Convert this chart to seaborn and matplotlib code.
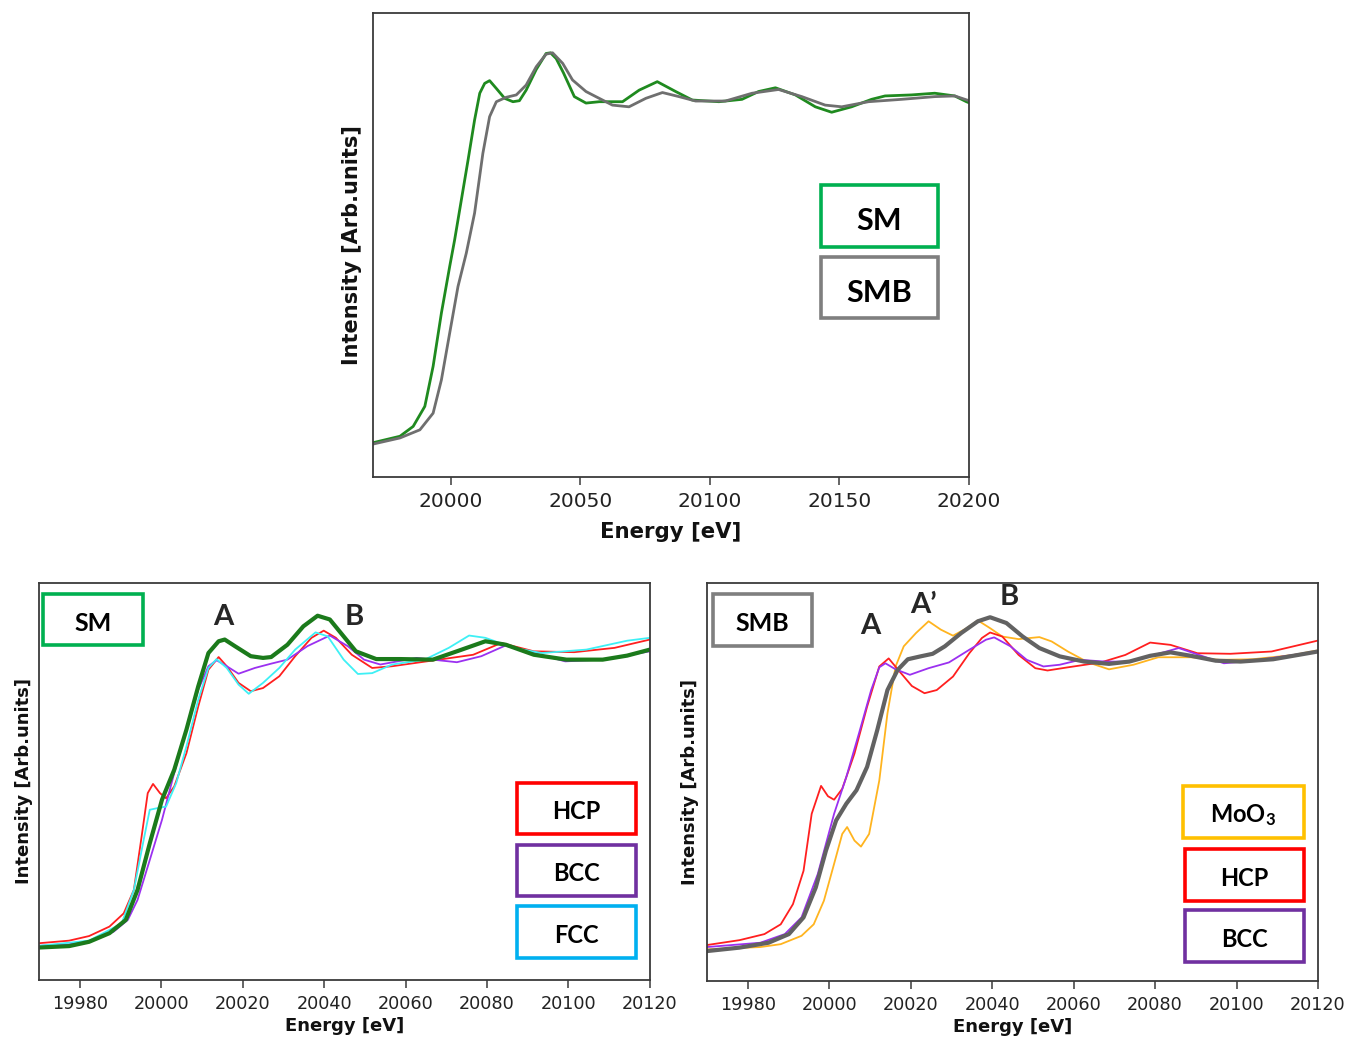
import matplotlib
matplotlib.use("Agg")
import matplotlib.pyplot as plt
import matplotlib.transforms as mtransforms
from matplotlib.patches import Rectangle
import pandas as pd
import seaborn as sns

# ---------------- data: normalised Mo K-edge XANES ----------------
# top panel: samples
top_sm_e = [19970, 19980.4, 19985.5, 19990, 19993.2, 19996.4, 19999.6, 20001.5, 20004.1, 20006.7,
            20009.2, 20011.2, 20013.1, 20015, 20017.6, 20020.8, 20024, 20026.5, 20029.1, 20033,
            20036.8, 20038.5, 20040.7, 20043.5, 20047.7, 20052.2, 20057.3, 20061, 20066.3, 20072.7,
            20079.7, 20086.8, 20093.2, 20103.5, 20112.4, 20118.8, 20125.3, 20133, 20140.7, 20147,
            20154.7, 20162.4, 20167.6, 20177.8, 20186.8, 20194.5, 20199, 20200]
top_sm_v = [-0.009, 0.01, 0.039, 0.098, 0.216, 0.373, 0.51, 0.588, 0.706, 0.824, 0.941, 1.02, 1.049,
            1.057, 1.034, 1.005, 0.995, 0.998, 1.029, 1.09, 1.137, 1.139, 1.122, 1.08, 1.01, 0.991,
            0.995, 0.995, 0.995, 1.029, 1.054, 1.025, 1.0, 0.995, 1.002, 1.025, 1.036, 1.015, 0.98,
            0.964, 0.98, 1.002, 1.012, 1.015, 1.02, 1.012, 0.995, 0.992]
top_smb_e = [19970, 19980.4, 19988.1, 19993.2, 19996.4, 19999.6, 20002.8, 20006, 20009.2, 20012.4,
             20015, 20017.6, 20021.4, 20025.3, 20029.1, 20033, 20036.8, 20039.3, 20043.2, 20047,
             20052.2, 20056, 20062.4, 20068.8, 20075.3, 20081.7, 20088.1, 20094.5, 20106, 20116.3,
             20126.5, 20135.5, 20144.5, 20150.9, 20161.2, 20174, 20186.8, 20194.5, 20200]
top_smb_v = [-0.013, 0.005, 0.029, 0.078, 0.176, 0.314, 0.451, 0.549, 0.667, 0.843, 0.951, 0.995,
             1.008, 1.015, 1.044, 1.098, 1.135, 1.139, 1.108, 1.059, 1.025, 1.01, 0.985, 0.98, 1.005,
             1.022, 1.01, 0.997, 0.997, 1.02, 1.031, 1.01, 0.985, 0.98, 0.995, 1.002, 1.01, 1.012,
             0.998]

# bottom-left panel: SM vs. Mo phase references
sm_e = [19970, 19977.4, 19982.3, 19987.3, 19991.3, 19994.2, 19997.2, 20000.2, 20003.2, 20006.2,
        20009.1, 20011.6, 20014.1, 20015.6, 20018.1, 20022, 20025, 20027, 20031, 20034.9, 20038.4,
        20041.4, 20044.8, 20047.8, 20052.8, 20058.7, 20066.7, 20072.6, 20079.6, 20084.6, 20091.5,
        20099.5, 20108.4, 20114.4, 20120]
sm_v = [-0.003, 0.002, 0.017, 0.047, 0.093, 0.198, 0.36, 0.512, 0.616, 0.756, 0.907, 1.023, 1.064,
        1.07, 1.047, 1.012, 1.006, 1.009, 1.052, 1.116, 1.153, 1.14, 1.081, 1.029, 1.002, 1.002, 1.0,
        1.029, 1.064, 1.052, 1.017, 1.0, 1.0, 1.014, 1.035]
hcp1_e = [19970, 19977.4, 19982.3, 19987.3, 19990.8, 19993.3, 19995.2, 19996.7, 19998, 19999.7,
          20001.2, 20003.2, 20006.2, 20009.1, 20011.6, 20014.1, 20016.1, 20019, 20022, 20025, 20029,
          20032.9, 20036.9, 20039.9, 20042.9, 20046.8, 20051.8, 20056.7, 20066.7, 20076.6, 20083.5,
          20091.5, 20101.4, 20111.3, 20120]
hcp1_v = [0.012, 0.021, 0.037, 0.07, 0.116, 0.198, 0.384, 0.535, 0.567, 0.535, 0.517, 0.558, 0.674,
          0.837, 0.965, 1.009, 0.977, 0.919, 0.89, 0.901, 0.942, 1.012, 1.076, 1.101, 1.076, 1.017,
          0.971, 0.977, 0.997, 1.017, 1.058, 1.029, 1.026, 1.041, 1.07]
bcc1_e = [19970, 19977.4, 19983.3, 19988.3, 19991.8, 19994.2, 19997.2, 20000.2, 20003.2, 20006.2,
          20009.1, 20011.6, 20013.6, 20016.1, 20019, 20023, 20027, 20031, 20035.9, 20041.4, 20045.8,
          20049.8, 20053.8, 20062.7, 20072.6, 20078.6, 20084.5, 20091.5, 20099.2, 20108.4, 20120]
bcc1_v = [0.003, 0.008, 0.023, 0.052, 0.093, 0.163, 0.302, 0.442, 0.605, 0.756, 0.895, 0.977, 0.998,
          0.977, 0.951, 0.971, 0.986, 1.0, 1.047, 1.084, 1.047, 1.0, 0.983, 1.006, 0.991, 1.012, 1.049,
          1.023, 0.994, 1.0, 1.029]
fcc1_e = [19970, 19982.3, 19990.3, 19993.3, 19995.7, 19997.2, 19999.2, 20001.2, 20003.7, 20006.2,
          20009.1, 20011.6, 20013.6, 20016.1, 20019, 20021.5, 20025, 20029, 20032.9, 20037.9, 20040.9,
          20044.8, 20048.3, 20051.8, 20056.7, 20064.7, 20070.6, 20075.6, 20079.6, 20086.5, 20093.5,
          20104.4, 20114.4, 20120]
fcc1_v = [0.003, 0.021, 0.081, 0.198, 0.372, 0.477, 0.483, 0.488, 0.57, 0.698, 0.86, 0.971, 1.002,
          0.971, 0.913, 0.881, 0.919, 0.971, 1.035, 1.095, 1.081, 1.0, 0.95, 0.953, 0.983, 1.0, 1.041,
          1.084, 1.076, 1.041, 1.023, 1.035, 1.066, 1.076]

# bottom-right panel: SMB vs. MoO3 and Mo phase references
smb_e = [19970, 19978, 19985.1, 19990.1, 19993.7, 19996.7, 19999.2, 20001.7, 20004.2, 20006.7,
         20009.3, 20011.8, 20014.3, 20016.8, 20019.3, 20022.4, 20025.4, 20028.4, 20032.4, 20036.5,
         20039.5, 20043.5, 20047.5, 20051.6, 20056.6, 20062.6, 20068.7, 20073.7, 20078.8, 20083.8,
         20088.8, 20094.9, 20101, 20109, 20120]
smb_v = [-0.012, 0.0, 0.017, 0.047, 0.105, 0.209, 0.337, 0.442, 0.5, 0.547, 0.628, 0.756, 0.895,
         0.965, 1.002, 1.012, 1.021, 1.047, 1.093, 1.134, 1.148, 1.128, 1.081, 1.041, 1.012, 0.994,
         0.986, 0.994, 1.014, 1.026, 1.014, 0.997, 0.994, 1.002, 1.029]
moo3_e = [19970, 19983.1, 19988.1, 19993.2, 19996.2, 19998.7, 20001.2, 20003.2, 20004.4, 20006.2,
          20007.8, 20009.8, 20012.3, 20014.3, 20016.3, 20018.3, 20021.3, 20024.4, 20027.4, 20030.4,
          20033.4, 20036.5, 20039.5, 20042.5, 20046.5, 20051.6, 20054.6, 20058.6, 20063.6, 20068.7,
          20074.7, 20080.8, 20088.8, 20095.9, 20104, 20114, 20120]
moo3_v = [-0.006, 0.002, 0.012, 0.041, 0.081, 0.163, 0.291, 0.395, 0.419, 0.372, 0.351, 0.395, 0.581,
          0.814, 0.977, 1.047, 1.093, 1.134, 1.105, 1.084, 1.107, 1.137, 1.11, 1.081, 1.072, 1.079,
          1.064, 1.029, 0.991, 0.967, 0.983, 1.009, 1.009, 1.0, 1.002, 1.017, 1.033]
hcp2_e = [19970, 19978, 19984.1, 19988.1, 19991.1, 19993.7, 19995.7, 19998, 19999.7, 20001.2, 20003.2,
          20006.2, 20009.3, 20012.3, 20014.6, 20017.3, 20020.3, 20023.4, 20026.4, 20030.4, 20034.4,
          20037.5, 20039.5, 20042.5, 20046.5, 20050.6, 20053.6, 20058.6, 20066.7, 20072.7, 20078.8,
          20083.8, 20090.4, 20098.5, 20108.6, 20120]
hcp2_v = [0.009, 0.026, 0.047, 0.081, 0.151, 0.267, 0.465, 0.562, 0.526, 0.514, 0.552, 0.674, 0.837,
          0.977, 1.005, 0.959, 0.909, 0.884, 0.895, 0.942, 1.023, 1.076, 1.095, 1.081, 1.017, 0.971,
          0.963, 0.974, 0.991, 1.017, 1.06, 1.052, 1.023, 1.021, 1.029, 1.067]
bcc2_e = [19970, 19983.1, 19989.1, 19993.2, 19997.2, 20001.2, 20004.2, 20007.3, 20010.3, 20012.3,
          20013.8, 20016.3, 20019.8, 20024.4, 20029.4, 20034.4, 20038.5, 20040.5, 20044.5, 20048.5,
          20052.6, 20056.6, 20061.6, 20067.7, 20073.7, 20079.8, 20085.8, 20090.8, 20096.9, 20104, 20120]
bcc2_v = [0.002, 0.017, 0.047, 0.105, 0.256, 0.465, 0.593, 0.744, 0.895, 0.974, 0.988, 0.967, 0.948,
          0.971, 0.991, 1.035, 1.07, 1.078, 1.047, 1.0, 0.977, 0.983, 1.0, 0.994, 0.994, 1.017, 1.041,
          1.017, 0.988, 0.997, 1.029]

top_ticks = [20000, 20050, 20100, 20150, 20200]
bottom_ticks = [19980, 20000, 20020, 20040, 20060, 20080, 20100, 20120]

# ---------------- style ----------------
sns.set_theme(style="white")
plt.rcParams["font.family"] = ["DejaVu Sans"]
plt.rcParams["mathtext.fontset"] = "custom"
plt.rcParams["mathtext.rm"] = "Lato:bold"
plt.rcParams["mathtext.bf"] = "Lato:bold"
plt.rcParams["mathtext.it"] = "Lato:bold"

SPINE = "#3a3a3a"
C_SM_LINE = "#1f8a1f"
C_SM_DARK = "#1b7a1b"
C_SMB_LINE = "#6f6f6f"
C_SMB_DARK = "#626262"
C_HCP = "#ff1f1f"
C_BCC = "#9b30f0"
C_FCC = "#3ef0f5"
C_MOO3 = "#ffb41f"
BOX_SM = "#00b050"
BOX_SMB = "#7f7f7f"
BOX_HCP = "#ff0000"
BOX_BCC = "#7030a0"
BOX_FCC = "#00b0f0"
BOX_MOO3 = "#ffc000"

fig = plt.figure(figsize=(13.49, 10.37), dpi=100)
ax_top = fig.add_axes([0.2765, 0.54, 0.4418, 0.4474])
ax_bl = fig.add_axes([0.0289, 0.0550, 0.4529, 0.3828])
ax_br = fig.add_axes([0.5241, 0.0540, 0.4529, 0.3838])


def curve(ax, e, v, color, lw):
    df = pd.DataFrame({"Energy": e, "Intensity": v})
    sns.lineplot(data=df, x="Energy", y="Intensity", ax=ax, color=color, linewidth=lw,
                 legend=False, estimator=None, solid_joinstyle="round", solid_capstyle="round")


def tag(ax, x, y, w, h, text, edge, size, drop=3.5):
    ax.add_patch(Rectangle((x, y), w, h, transform=ax.transAxes, facecolor="white",
                           edgecolor=edge, linewidth=2.6, zorder=5, clip_on=False))
    shift = mtransforms.ScaledTranslation(0, -drop / 100, fig.dpi_scale_trans)
    ax.text(x + w / 2, y + h / 2, text, transform=ax.transAxes + shift, ha="center",
            va="center", fontsize=size, fontweight="bold", family="Lato", color="black",
            zorder=6)


def frame(ax, xlim, ticks, tick_size, xlab_size, ylab_size, ylab_x):
    ax.set_xlim(*xlim)
    ax.set_ylim(-0.116, 1.267)
    ax.set_xticks(ticks)
    ax.set_xticklabels([str(t) for t in ticks])
    ax.set_yticks([])
    ax.tick_params(axis="x", direction="out", length=6, width=1.1, color=SPINE,
                   labelsize=tick_size, labelcolor="#222222", pad=5, bottom=True)
    for sp in ax.spines.values():
        sp.set_color(SPINE)
        sp.set_linewidth(1.3)
    ax.set_xlabel("Energy [eV]", fontsize=xlab_size, fontweight="bold", color="#111111")
    ax.set_ylabel("Intensity [Arb.units]", fontsize=ylab_size, fontweight="bold",
                  color="#111111")
    ax.yaxis.set_label_coords(ylab_x, 0.5)


# ---------------- top panel ----------------
curve(ax_top, top_sm_e, top_sm_v, C_SM_LINE, 2.0)
curve(ax_top, top_smb_e, top_smb_v, C_SMB_LINE, 2.0)
frame(ax_top, (19970, 20200), top_ticks, 14.5, 15.3, 15, -0.018)
ax_top.set_ylim(-0.11, 1.256)
ax_top.xaxis.labelpad = 8
tag(ax_top, 0.7517, 0.4957, 0.1963, 0.1336, "SM", BOX_SM, 22, drop=5)
tag(ax_top, 0.7517, 0.3427, 0.1963, 0.1315, "SMB", BOX_SMB, 22, drop=5)

# ---------------- bottom-left panel ----------------
curve(ax_bl, hcp1_e, hcp1_v, C_HCP, 1.3)
curve(ax_bl, bcc1_e, bcc1_v, C_BCC, 1.3)
curve(ax_bl, fcc1_e, fcc1_v, C_FCC, 1.3)
curve(ax_bl, sm_e, sm_v, C_SM_DARK, 3.0)
frame(ax_bl, (19970, 20120), bottom_ticks, 12.7, 13, 13, -0.010)
ax_bl.xaxis.labelpad = 3
tag(ax_bl, 0.0065, 0.8438, 0.1637, 0.1285, "SM", BOX_SM, 18)
tag(ax_bl, 0.7823, 0.3678, 0.1948, 0.1285, "HCP", BOX_HCP, 17)
tag(ax_bl, 0.7823, 0.2116, 0.1948, 0.1285, "BCC", BOX_BCC, 17)
tag(ax_bl, 0.7823, 0.0554, 0.1948, 0.1310, "FCC", BOX_FCC, 17)
for lab, xe in [("A", 20015.2), ("B", 20047.3)]:
    ax_bl.text(xe, 1.150, lab, ha="center", va="center", fontsize=21,
               fontweight="bold", family="Lato")

# ---------------- bottom-right panel ----------------
curve(ax_br, moo3_e, moo3_v, C_MOO3, 1.3)
curve(ax_br, hcp2_e, hcp2_v, C_HCP, 1.3)
curve(ax_br, bcc2_e, bcc2_v, C_BCC, 1.3)
curve(ax_br, smb_e, smb_v, C_SMB_DARK, 3.0)
frame(ax_br, (19970, 20120), bottom_ticks, 12.7, 13, 13, -0.013)
ax_br.xaxis.labelpad = 3
tag(ax_br, 0.0098, 0.8417, 0.1620, 0.1307, "SMB", BOX_SMB, 18)
tag(ax_br, 0.7790, 0.3593, 0.1980, 0.1307, r"$\mathbf{MoO_3}$", BOX_MOO3, 17)
tag(ax_br, 0.7823, 0.2010, 0.1948, 0.1307, "HCP", BOX_HCP, 17)
tag(ax_br, 0.7823, 0.0477, 0.1948, 0.1307, "BCC", BOX_BCC, 17)
for lab, xe, ye in [("A", 20010.0, 1.118), ("A\u2019", 20023.1, 1.192), ("B", 20044.1, 1.217)]:
    ax_br.text(xe, ye, lab, ha="center", va="center", fontsize=21,
               fontweight="bold", family="Lato")

fig.savefig("out.png", dpi=100, facecolor="white")
